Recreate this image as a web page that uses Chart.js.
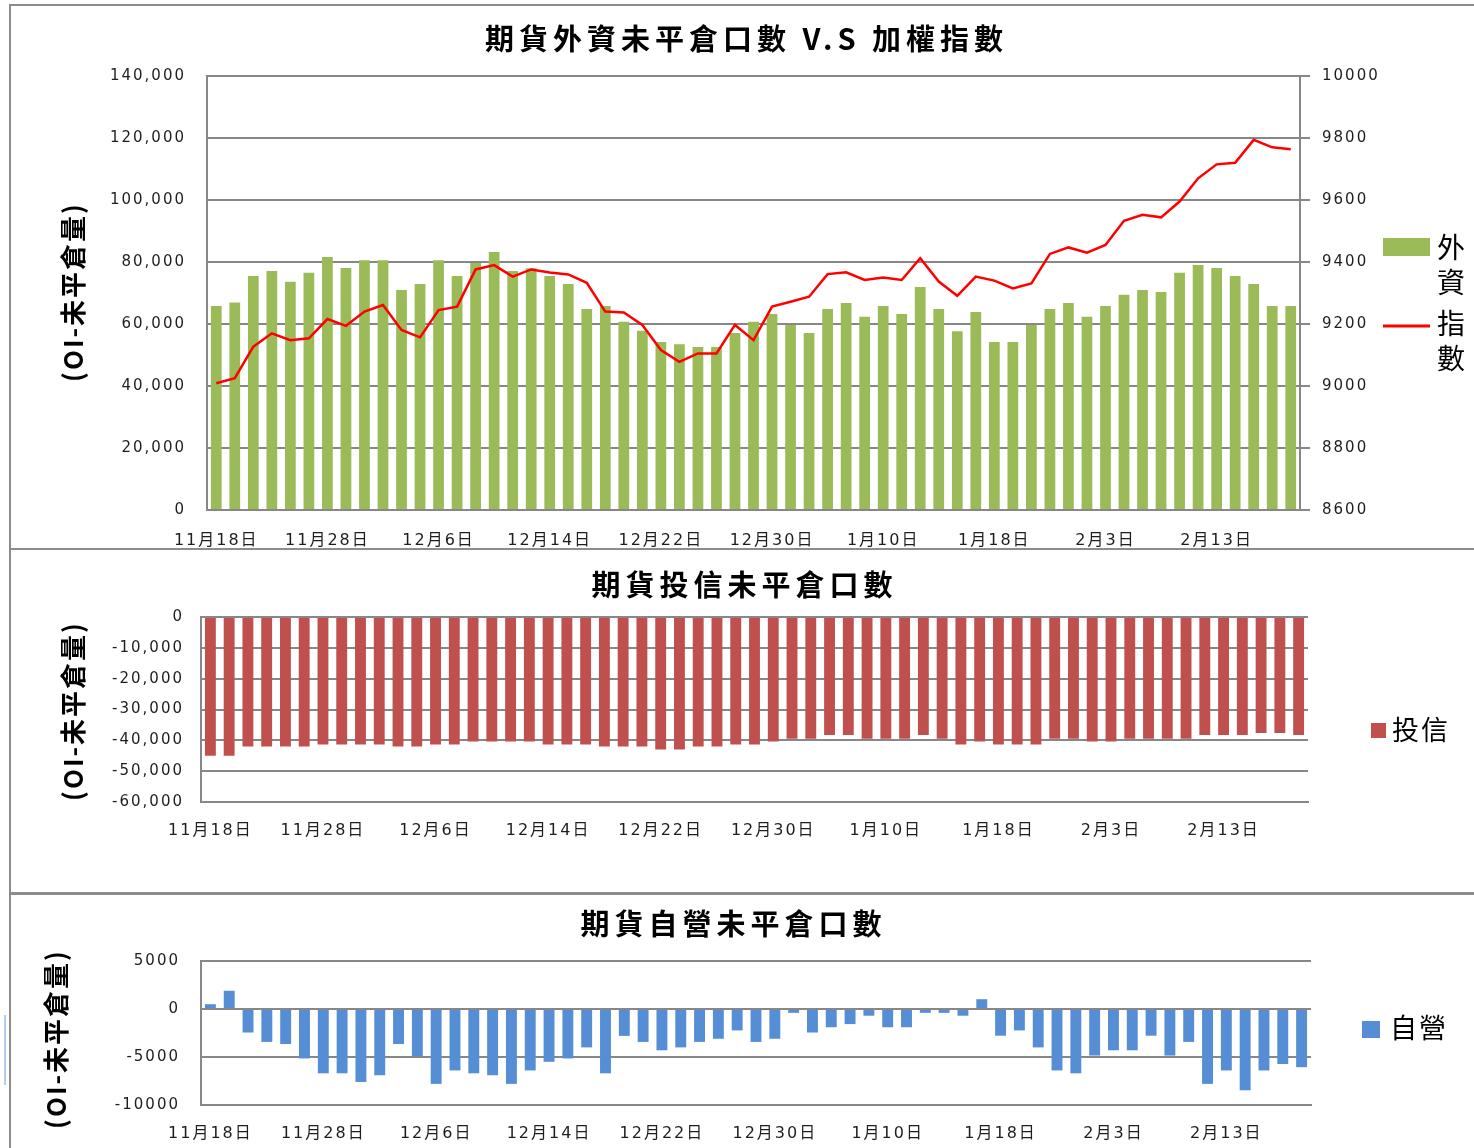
<!DOCTYPE html>
<html>
<head>
<meta charset="utf-8">
<script src="https://cdn.jsdelivr.net/npm/chart.js@4.4.1/dist/chart.umd.min.js"></script>
<style>
  html, body { margin: 0; padding: 0; background: #fff; }
  #wrap { position: relative; width: 1474px; height: 1148px; overflow: hidden; background: #fff; }
  canvas { position: absolute; left: 0; }
  .ln { position: absolute; background: #8c8c8c; z-index: 5; }
</style>
</head>
<body>
<div id="wrap">
  <canvas id="c1" width="1474" height="549" style="top:0;width:1474px;height:549px"></canvas>
  <canvas id="c2" width="1474" height="344" style="top:549px;width:1474px;height:344px"></canvas>
  <canvas id="c3" width="1474" height="255" style="top:893px;width:1474px;height:255px"></canvas>
  <div class="ln" style="left:9px;top:4px;width:1465px;height:2px"></div>
  <div class="ln" style="left:9px;top:4px;width:2px;height:1144px"></div>
  <div class="ln" style="left:9px;top:548px;width:1465px;height:2px"></div>
  <div class="ln" style="left:9px;top:892px;width:1465px;height:3px"></div>
  <div class="ln" style="left:4px;top:1015px;width:2px;height:70px;background:#b3cdef"></div>
</div>
<script>
// ---------------- DATA ----------------
const categories = [
  '11月18日','11月20日','11月21日','11月22日','11月25日','11月27日','11月28日','11月29日','12月2日','12月3日',
  '12月4日','12月5日','12月6日','12月9日','12月10日','12月11日','12月12日','12月13日','12月14日','12月16日',
  '12月17日','12月18日','12月19日','12月20日','12月22日','12月23日','12月24日','12月25日','12月26日','12月27日',
  '12月30日','12月31日','1月2日','1月3日','1月6日','1月8日','1月10日','1月13日','1月14日','1月15日',
  '1月16日','1月17日','1月18日','1月20日','1月21日','1月22日','1月23日','1月24日','2月3日','2月5日',
  '2月6日','2月7日','2月10日','2月11日','2月13日','2月14日','2月17日','2月18日','2月19日'
];
const foreignOI = [
  65800, 66900, 75500, 77100, 73600, 76500, 81600, 78100, 80600, 80600,
  71000, 72900, 80600, 75500, 79700, 83200, 77100, 78000, 75500, 72900,
  64800, 65800, 60700, 57800, 54200, 53500, 52600, 52600, 57100, 60700,
  63200, 59700, 57100, 64800, 66800, 62300, 65800, 63200, 71900, 64800,
  57700, 63900, 54200, 54200, 59700, 64800, 66800, 62300, 65800, 69400,
  71000, 70300, 76500, 79000, 78100, 75500, 72900, 65800, 65800
];
const taiexIndex = [
  9009, 9025, 9127, 9170, 9148, 9154, 9216, 9194, 9240, 9261,
  9181, 9157, 9245, 9256, 9376, 9390, 9353, 9376, 9366, 9360,
  9333, 9240, 9237, 9197, 9116, 9078, 9105, 9105, 9197, 9148,
  9256, 9272, 9288, 9361, 9367, 9342, 9350, 9342, 9412, 9337,
  9291, 9353, 9340, 9315, 9331, 9426, 9447, 9430, 9455, 9533,
  9552, 9544, 9595, 9670, 9715, 9720, 9794, 9770, 9764
];
const trustOI = [
  -45000, -45000, -42000, -42000, -42000, -42000, -41350, -41350, -41350, -41350,
  -42000, -42000, -41350, -41350, -40350, -40350, -40350, -40350, -41350, -41350,
  -41350, -42000, -42000, -42000, -43000, -43000, -42000, -42000, -41350, -41350,
  -40350, -39450, -39450, -38300, -38300, -39450, -39450, -39450, -38300, -39450,
  -41350, -40350, -41350, -41350, -41350, -39450, -39450, -40350, -40350, -39450,
  -39450, -39450, -39450, -38300, -38300, -38300, -37650, -37650, -38300
];
const dealerOI = [
  500, 1900, -2450, -3430, -3650, -5150, -6700, -6700, -7600, -6900,
  -3650, -4900, -7800, -6400, -6700, -6900, -7800, -6400, -5500, -5150,
  -4000, -6700, -2800, -3430, -4300, -4000, -3430, -3100, -2230, -3430,
  -3100, -400, -2450, -1900, -1570, -700, -1900, -1900, -400, -400,
  -700, 1020, -2780, -2230, -4000, -6400, -6700, -4850, -4300, -4300,
  -2780, -4850, -3430, -7800, -6400, -8470, -6400, -5730, -6060
];
const seriesNames = ['外資', '指數', '投信', '自營'];
const chartTitles = ['期貨外資未平倉口數 V.S 加權指數', '期貨投信未平倉口數', '期貨自營未平倉口數'];
const yAxisTitle = '(OI-未平倉量)';
const labelEvery = 6;

// ---------------- STYLE ----------------
const FONT_TICK = "'DejaVu Sans', 'Noto Sans CJK TC', sans-serif";
const FONT_CJK = "'Noto Sans CJK TC', 'Noto Sans CJK JP', sans-serif";
const GRID = '#878787';
const TICK_COLOR = '#1e1e1e';

const spacingPlugin = {
  id: 'spacing',
  beforeLayout(chart) { chart.ctx.letterSpacing = '2px'; },
  beforeDraw(chart) { chart.ctx.letterSpacing = '2px'; }
};

const panelText = {
  id: 'panelText',
  afterDraw(chart, args, o) {
    const ctx = chart.ctx;
    ctx.save();
    ctx.fillStyle = '#000';
    if (o.title) {
      const t = o.title;
      ctx.font = 'bold ' + t.size + 'px ' + FONT_CJK;
      ctx.letterSpacing = t.spacing + 'px';
      ctx.textAlign = 'center';
      ctx.textBaseline = 'middle';
      ctx.fillText(t.text, t.x + t.spacing / 2, t.y);
    }
    if (o.yTitle) {
      const t = o.yTitle;
      ctx.save();
      ctx.font = 'bold ' + t.size + 'px ' + FONT_CJK;
      ctx.letterSpacing = t.spacing + 'px';
      ctx.textAlign = 'center';
      ctx.textBaseline = 'middle';
      ctx.translate(t.x, t.y);
      ctx.rotate(-Math.PI / 2);
      ctx.fillText(t.text, t.spacing / 2, 0);
      ctx.restore();
    }
    (o.legend || []).forEach(item => {
      const ds = chart.data.datasets[item.dataset];
      const color = ds.type === 'line' ? ds.borderColor : ds.backgroundColor;
      if (item.kind === 'box') {
        ctx.fillStyle = color;
        ctx.fillRect(item.sx, item.sy, item.sw, item.sh);
      } else {
        ctx.strokeStyle = color;
        ctx.lineWidth = 3;
        ctx.beginPath();
        ctx.moveTo(item.sx, item.sy);
        ctx.lineTo(item.sx + item.sw, item.sy);
        ctx.stroke();
      }
      ctx.fillStyle = '#000';
      ctx.font = item.size + 'px ' + FONT_CJK;
      ctx.textBaseline = 'middle';
      if (item.vertical) {
        ctx.letterSpacing = '0px';
        ctx.textAlign = 'center';
        Array.from(ds.label).forEach((ch, k) => {
          ctx.fillText(ch, item.tx, item.ty + k * item.step);
        });
      } else {
        ctx.letterSpacing = item.spacing + 'px';
        ctx.textAlign = 'left';
        ctx.fillText(ds.label, item.tx, item.ty);
      }
    });
    ctx.restore();
  }
};

function xAxis(height, pad) {
  return {
    type: 'category',
    offset: true,
    grid: { display: false, drawTicks: false },
    border: { display: true, color: GRID, width: 2 },
    ticks: {
      autoSkip: false, maxRotation: 0, minRotation: 0, padding: pad,
      color: TICK_COLOR, font: { family: FONT_TICK, size: 16 },
      callback: function (v, i) { return i % labelEvery === 0 ? this.getLabelForValue(v) : ''; }
    },
    afterFit(s) { s.height = height; }
  };
}
function yAxis(min, max, step, width, pad, fmt) {
  return {
    position: 'left', min: min, max: max,
    grid: { color: GRID, lineWidth: 2, drawTicks: false },
    border: { display: true, color: GRID, width: 2 },
    ticks: {
      stepSize: step, padding: pad, color: TICK_COLOR,
      font: { family: FONT_TICK, size: 15 },
      callback: fmt
    },
    afterFit(s) { s.width = width; }
  };
}
const withComma = v => v.toLocaleString('en-US');
const plain = v => String(v);

const common = {
  responsive: false, animation: false, devicePixelRatio: 1, events: [],
  plugins: { legend: { display: false }, tooltip: { enabled: false }, title: { display: false } }
};

// ---------------- CHART 1 ----------------
new Chart(document.getElementById('c1'), {
  type: 'bar',
  data: {
    labels: categories,
    datasets: [
      { type: 'bar', label: seriesNames[0], data: foreignOI, backgroundColor: '#9BBB59',
        yAxisID: 'y', order: 1, categoryPercentage: 1, barPercentage: 0.58 },
      { type: 'line', label: seriesNames[1], data: taiexIndex, borderColor: '#FF0000',
        borderWidth: 2.5, pointRadius: 0, tension: 0, yAxisID: 'y1', order: 0 }
    ]
  },
  options: Object.assign({}, common, {
    layout: { padding: { top: 76, left: 0, right: 0, bottom: 0 } },
    scales: {
      x: xAxis(39, 21),
      y: yAxis(0, 140000, 20000, 207, 21, withComma),
      y1: {
        position: 'right', min: 8600, max: 10000,
        grid: { drawOnChartArea: false, drawTicks: true, tickLength: 10, color: GRID, lineWidth: 2 },
        border: { display: true, color: GRID, width: 2 },
        ticks: { stepSize: 200, padding: 12, color: TICK_COLOR, font: { family: FONT_TICK, size: 15 }, callback: plain },
        afterFit(s) { s.width = 174; }
      }
    },
    plugins: Object.assign({}, common.plugins, {
      panelText: {
        title: { text: chartTitles[0], x: 744, y: 39, size: 29, spacing: 5 },
        yTitle: { text: yAxisTitle, x: 73, y: 293, size: 26, spacing: 2 },
        legend: [
          { dataset: 0, kind: 'box', sx: 1383, sy: 238, sw: 47, sh: 18, tx: 1451, ty: 247, step: 35, size: 28, vertical: true },
          { dataset: 1, kind: 'line', sx: 1383, sy: 326, sw: 47, tx: 1451, ty: 323, step: 35, size: 28, vertical: true }
        ]
      }
    })
  }),
  plugins: [spacingPlugin, panelText]
});

// ---------------- CHART 2 ----------------
new Chart(document.getElementById('c2'), {
  type: 'bar',
  data: {
    labels: categories,
    datasets: [
      { label: seriesNames[2], data: trustOI, backgroundColor: '#C0504D',
        categoryPercentage: 1, barPercentage: 0.58 }
    ]
  },
  options: Object.assign({}, common, {
    layout: { padding: { top: 68, left: 0, right: 166, bottom: 0 } },
    scales: {
      x: xAxis(91, 19),
      y: yAxis(-60000, 0, 10000, 201, 17, withComma)
    },
    plugins: Object.assign({}, common.plugins, {
      panelText: {
        title: { text: chartTitles[1], x: 742, y: 36, size: 29, spacing: 5 },
        yTitle: { text: yAxisTitle, x: 73, y: 163, size: 26, spacing: 2 },
        legend: [
          { dataset: 0, kind: 'box', sx: 1371, sy: 174, sw: 15, sh: 15, tx: 1392, ty: 181, size: 27, spacing: 2, vertical: false }
        ]
      }
    })
  }),
  plugins: [spacingPlugin, panelText]
});

// ---------------- CHART 3 ----------------
new Chart(document.getElementById('c3'), {
  type: 'bar',
  data: {
    labels: categories,
    datasets: [
      { label: seriesNames[3], data: dealerOI, backgroundColor: '#558ED5',
        categoryPercentage: 1, barPercentage: 0.58 }
    ]
  },
  options: Object.assign({}, common, {
    layout: { padding: { top: 68, left: 0, right: 163, bottom: 0 } },
    scales: {
      x: xAxis(43, 19),
      y: yAxis(-10000, 5000, 5000, 201, 21, plain)
    },
    plugins: Object.assign({}, common.plugins, {
      panelText: {
        title: { text: chartTitles[2], x: 731, y: 31, size: 29, spacing: 5 },
        yTitle: { text: yAxisTitle, x: 56, y: 147, size: 26, spacing: 2 },
        legend: [
          { dataset: 0, kind: 'box', sx: 1362, sy: 128, sw: 18, sh: 17, tx: 1390, ty: 135, size: 27, spacing: 2, vertical: false }
        ]
      }
    })
  }),
  plugins: [spacingPlugin, panelText]
});
</script>
</body>
</html>
